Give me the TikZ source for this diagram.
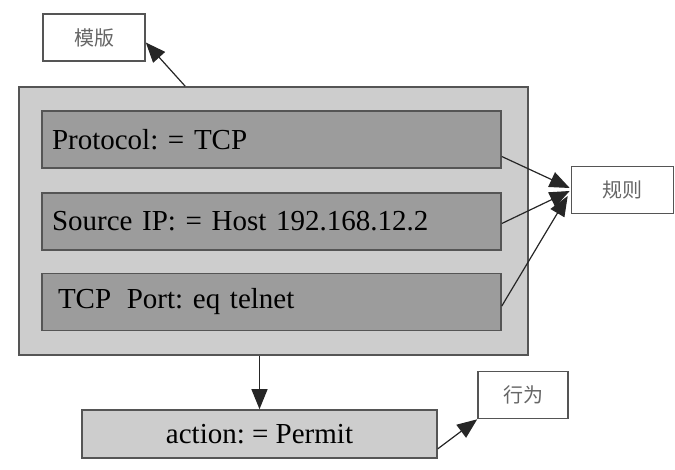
\documentclass[tikz,border=0pt]{standalone}
\usepackage{fontspec}
\setmainfont{Liberation Serif}
\newfontfamily\cjk{Noto Sans CJK SC}
\usepackage{tikz}
\usetikzlibrary{arrows.meta,positioning,calc}
\frenchspacing
\definecolor{outergray}{HTML}{CDCDCD}
\definecolor{rowgray}{HTML}{9C9C9C}
\definecolor{edgegray}{HTML}{555555}
\tikzset{
  tag/.style={draw=edgegray,thick,fill=white,minimum width=#1,minimum height=23.5pt,inner sep=0pt,font=\cjk\fontsize{10}{12}\selectfont,text=black!60},
  tag/.default={51pt},
  frame/.style={draw=edgegray,thick,fill=outergray,minimum width=254.5pt,minimum height=134pt,inner sep=0pt},
  row/.style={draw=edgegray,thick,fill=rowgray,minimum width=229.5pt,minimum height=28.5pt,text width=219.5pt,inner xsep=5pt,inner ysep=0pt,align=left,font=\fontsize{14.5}{16}\selectfont},
  act/.style={draw=edgegray,thick,fill=outergray,minimum width=177.5pt,minimum height=24pt,inner sep=0pt,font=\fontsize{14.5}{16}\selectfont},
  arr/.style={-{Triangle[length=10pt,width=8pt]},semithick,black!85},
}
\begin{document}
\begin{tikzpicture}[x=0.5pt,y=-0.5pt]
 \useasboundingbox (0,0) rectangle (675,470);
 \node[tag] (mb) at (94,37.5){模版};
 \node[frame] (outer) at (273.5,221){};
 \node[row] (r1) at (271.5,139.5){Protocol: = TCP};
 \node[row] (r2) at (271.5,221.5){Source IP: = Host 192.168.12.2};
 \node[row] (r3) at (271.5,302){\hspace*{3pt}TCP\hspace{3pt} Port: eq telnet};
 \node[tag] (gz) at (622.5,190){规则};
 \node[act] (act) at (259.5,434){action: = Permit};
 \node[tag=45pt] (xw) at (523,395){行为};
 \coordinate (top) at ($(outer.north west)!0.327!(outer.north east)$);
 \draw[arr] (top) -- ($(mb.east)+(0,5)$);
 \draw[arr] ($(r1.east)+(0,17)$) -- ($(gz.west)+(-1,-2)$);
 \draw[arr] ($(r2.east)+(0,2)$) -- ($(gz.west)+(-1,1)$);
 \draw[arr] ($(r3.east)+(0,4)$) -- ($(gz.west)+(-3,6)$);
 \draw[arr] (act.north |- outer.south) -- (act.north);
 \draw[arr] ($(act.south east)+(0,-10)$) -- (xw.south west);
\end{tikzpicture}
\end{document}
